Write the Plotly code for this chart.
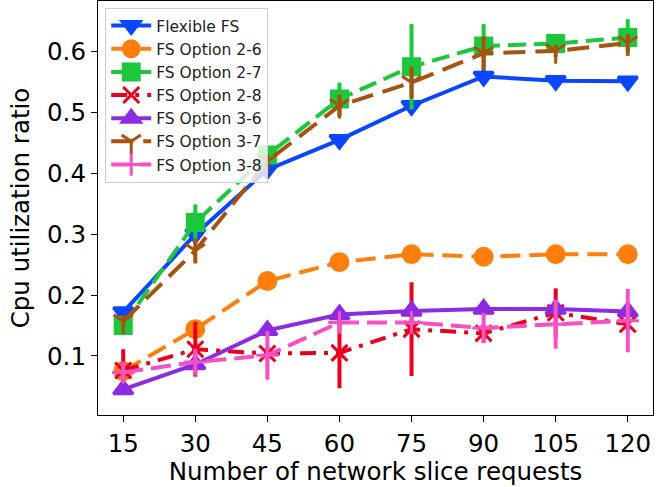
import plotly.graph_objects as go

x_vals = [15, 30, 45, 60, 75, 90, 105, 120]
x_ticks = [15, 30, 45, 60, 75, 90, 105, 120]
y_ticks = [0.1, 0.2, 0.3, 0.4, 0.5, 0.6]

names = ["Flexible FS", "FS Option 2-6", "FS Option 2-7", "FS Option 2-8",
         "FS Option 3-6", "FS Option 3-7", "FS Option 3-8"]

flex = [0.172, 0.300, 0.406, 0.455, 0.511, 0.559, 0.552, 0.551]
flex_err = [0.005, 0.005, 0.005, 0.005, 0.005, 0.012, 0.005, 0.005]

opt26 = [0.075, 0.144, 0.223, 0.254, 0.267, 0.263, 0.267, 0.267]
opt26_err = [0.004, 0.004, 0.004, 0.004, 0.004, 0.004, 0.004, 0.004]

opt27 = [0.150, 0.319, 0.430, 0.522, 0.575, 0.609, 0.613, 0.623]
opt27_err = [0.005, 0.030, 0.010, 0.027, 0.070, 0.036, 0.008, 0.030]

opt28 = [0.076, 0.111, 0.104, 0.105, 0.144, 0.137, 0.171, 0.152]
opt28_err = [0.035, 0.045, 0.010, 0.058, 0.077, 0.015, 0.040, 0.010]

opt36 = [0.045, 0.086, 0.142, 0.168, 0.174, 0.177, 0.177, 0.173]
opt36_err = [0.005, 0.005, 0.005, 0.005, 0.005, 0.005, 0.005, 0.005]

opt37 = [0.157, 0.273, 0.420, 0.511, 0.549, 0.597, 0.601, 0.614]
opt37_err = [0.010, 0.020, 0.010, 0.018, 0.026, 0.028, 0.010, 0.015]

opt38 = [0.073, 0.090, 0.101, 0.155, 0.155, 0.146, 0.152, 0.158]
opt38_err = [0.015, 0.022, 0.040, 0.005, 0.005, 0.025, 0.040, 0.052]

series = [flex, opt26, opt27, opt28, opt36, opt37, opt38]
errors = [flex_err, opt26_err, opt27_err, opt28_err, opt36_err, opt37_err, opt38_err]

colors = ["#0b46ff", "#ff7f0e", "#1dc73b", "#e8001c", "#8b2be2", "#a65210", "#f551c4"]
symbols = ["triangle-down", "circle", "square", "x-thin-open", "triangle-up",
           "y-down-open", "cross-thin-open"]
sizes = [17, 17, 16, 16, 17, 16, 16]
dashes = ["solid", "20px,9px", "18px,8px", "16px,8px,4px,8px", "solid", "22px,10px", "20px,8px"]

fig = go.Figure()
for name, ys, es, c, s, sz, d in zip(names, series, errors, colors, symbols, sizes, dashes):
    fig.add_trace(go.Scatter(
        x=x_vals, y=ys, name=name, mode="lines+markers",
        line=dict(color=c, width=4, dash=d),
        marker=dict(symbol=s, size=sz, color=c, line=dict(color=c, width=3)),
        error_y=dict(type="data", array=es, visible=True, color=c, thickness=4, width=0),
    ))

font_family = "DejaVu Sans"
fig.update_layout(
    width=667, height=487,
    margin=dict(l=98, r=14, t=1, b=72),
    paper_bgcolor="white", plot_bgcolor="white",
    font=dict(family=font_family, size=24.5, color="black"),
    showlegend=True,
    legend=dict(
        x=0.013, y=0.983, xanchor="left", yanchor="top",
        bgcolor="rgba(255,255,255,0.8)", bordercolor="#cccccc", borderwidth=1,
        font=dict(family=font_family, size=15.5, color="#222222"),
        tracegroupgap=0, itemwidth=40,
    ),
    xaxis=dict(
        range=[9.75, 125.25], tickmode="array", tickvals=x_ticks,
        ticktext=[str(v) for v in x_ticks],
        showgrid=False, zeroline=False, showline=True, linecolor="black", linewidth=1.2,
        mirror=True, ticks="outside", ticklen=6, tickwidth=1.2, tickcolor="black",
        title=dict(text="Number of network slice requests", standoff=6,
                   font=dict(size=24.5)),
        tickfont=dict(size=24.5),
    ),
    yaxis=dict(
        range=[0.003, 0.683], tickmode="array", tickvals=y_ticks,
        ticktext=["%.1f" % v for v in y_ticks],
        showgrid=False, zeroline=False, showline=True, linecolor="black", linewidth=1.2,
        mirror=True, ticks="outside", ticklen=6, tickwidth=1.2, tickcolor="black",
        title=dict(text="Cpu utilization ratio", standoff=10, font=dict(size=24.5)),
        tickfont=dict(size=24.5),
    ),
)

fig.write_html("out.html")
